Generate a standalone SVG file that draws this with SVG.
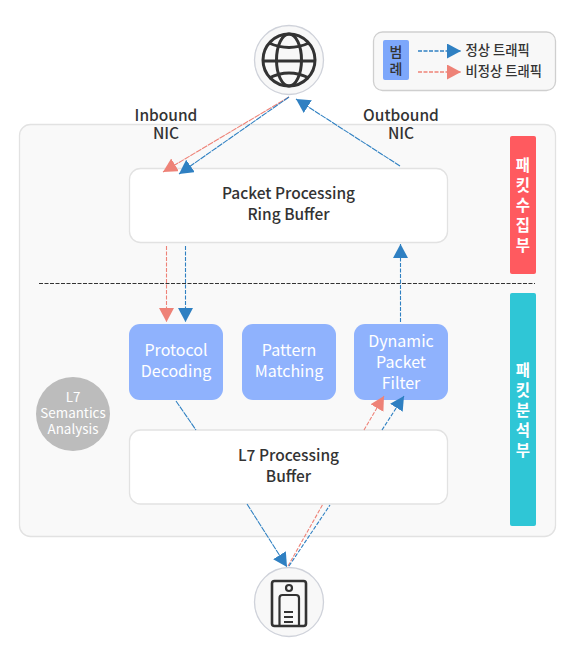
<svg xmlns="http://www.w3.org/2000/svg" width="574" height="658" viewBox="0 0 574 658">
<style>
text{font-family:"Noto Sans CJK KR","Noto Sans",sans-serif;text-anchor:middle}
.lbl{font-size:15.5px;font-weight:500;fill:#333}
.blu{font-size:16px;fill:#fff}
.sem{font-size:13.4px;fill:#fff}
.side{font-size:15.5px;font-weight:700;fill:#fff}
.leg{font-size:13.3px;font-weight:500;fill:#333;text-anchor:start}
.box{fill:#fff;stroke:#e2e2e2;stroke-width:1.3}
.bl{fill:#8fb2fd}
.n{stroke:#2f80c2;stroke-width:1.1;fill:none;stroke-dasharray:4 1.5}
.r{stroke:#ee8277;stroke-width:1.1;fill:none;stroke-dasharray:4 1.5}
.d{stroke-dasharray:6 0.8}
.ic{fill:none;stroke:#333;stroke-width:3}
.ring{fill:#f8f8f8;stroke:#cfd2da;stroke-width:1.3}
</style>
<defs>
<marker id="ab" markerUnits="userSpaceOnUse" markerWidth="15" markerHeight="16" refX="14" refY="7.500" orient="auto"><path d="M0 0L14 7.500L0 15Z" fill="#2f80c2"/></marker>
<marker id="ar" markerUnits="userSpaceOnUse" markerWidth="15" markerHeight="16" refX="14" refY="7.500" orient="auto"><path d="M0 0L14 7.500L0 15Z" fill="#ee8277"/></marker>
</defs>
<rect id="panel" x="19.500" y="124.500" width="536" height="412" rx="11" fill="#f9f9f9" stroke="#e2e2e2" stroke-width="1.3"/>
<path d="M39 283.500H535" stroke="#333" stroke-width="1" stroke-dasharray="4 1.500" fill="none"/>
<g id="internet"><circle class="ring" cx="289" cy="60" r="34.500"/>
<circle class="ic" cx="289" cy="60" r="26"/><ellipse class="ic" cx="289" cy="60" rx="12.500" ry="26"/><path class="ic" d="M263 61H315M269 43Q289 52 309 43M269 78Q289 68 309 78"/></g>
<g id="device"><circle class="ring" cx="289" cy="602" r="34.500"/>
<rect class="ic" x="272" y="581" width="34" height="45" rx="2.500" style="stroke-width:2.600"/><circle class="ic" cx="289" cy="588" r="3" style="stroke-width:2.200"/><path class="ic" style="stroke-width:2.200" d="M279.500 626V598Q279.500 595 282.500 595H296Q299 595 299 598V626M284 612H293M284 617H293M284 622H293"/></g>
<g id="legend"><rect x="373.500" y="32" width="182" height="58.500" rx="9" fill="#f8f8f8" stroke="#cfcfcf" stroke-width="1.300"/>
<rect x="383" y="40" width="26" height="40" rx="2" fill="#7da7fb"/>
<text x="396" y="57" font-size="14" font-weight="500" fill="#333">범</text><text x="396" y="74" font-size="14" font-weight="500" fill="#333">례</text>
<text class="leg" x="465.500" y="55">정상 트래픽</text><text class="leg" x="465.500" y="76">비정상 트래픽</text></g>
<g id="inbound"><text class="lbl" x="166" y="120.500">Inbound</text><text class="lbl" x="166" y="139">NIC</text></g>
<g id="outbound"><text class="lbl" x="401" y="120.500">Outbound</text><text class="lbl" x="401" y="139">NIC</text></g>
<g id="ring-buffer"><rect class="box" x="129.500" y="168.500" width="318" height="74" rx="11"/><text class="lbl" x="288.500" y="199">Packet Processing</text><text class="lbl" x="288.500" y="220">Ring Buffer</text></g>
<g id="protocol"><rect class="bl" x="129" y="324" width="94" height="76" rx="11"/><text class="blu" x="176" y="356">Protocol</text><text class="blu" x="176" y="377">Decoding</text></g>
<g id="pattern"><rect class="bl" x="242" y="324" width="94" height="76" rx="11"/><text class="blu" x="289" y="356">Pattern</text><text class="blu" x="289" y="377">Matching</text></g>
<g id="filter"><rect class="bl" x="354" y="324" width="94" height="76" rx="11"/><text class="blu" x="401" y="347">Dynamic</text><text class="blu" x="401" y="368">Packet</text><text class="blu" x="401" y="389">Filter</text></g>
<g id="semantics"><circle cx="73" cy="414" r="37" fill="#bcbcbc"/><text class="sem" x="73" y="402">L7</text><text class="sem" x="73" y="418">Semantics</text><text class="sem" x="73" y="434">Analysis</text></g>
<g id="l7-buffer"><rect class="box" x="129.500" y="430" width="318" height="74" rx="11"/><text class="lbl" x="288.500" y="461">L7 Processing</text><text class="lbl" x="288.500" y="482">Buffer</text></g>
<g id="collect"><rect x="510" y="136" width="26" height="138" rx="2" fill="#ff5a5f"/>
<text class="side" x="523" y="170.500">패</text><text class="side" x="523" y="190.500">킷</text><text class="side" x="523" y="210.500">수</text><text class="side" x="523" y="230.500">집</text><text class="side" x="523" y="250.500">부</text></g>
<g id="analysis"><rect x="510" y="293" width="26" height="233" rx="2" fill="#2fc6d6"/>
<text class="side" x="523" y="376">패</text><text class="side" x="523" y="396">킷</text><text class="side" x="523" y="416">분</text><text class="side" x="523" y="436">석</text><text class="side" x="523" y="456">부</text></g>
<g id="connectors">
<path class="n" style="stroke-width:1.500" d="M418 51H461" marker-end="url(#ab)"/><path class="r" style="stroke-width:1.500" d="M418 72H461" marker-end="url(#ar)"/>
<path class="r d" d="M289 97L163 172" marker-end="url(#ar)"/>
<path class="n d" d="M289 97L179 174" marker-end="url(#ab)"/>
<path class="n d" d="M400 166L296 99" marker-end="url(#ab)"/>
<path class="r" d="M166.500 246V322" marker-end="url(#ar)"/>
<path class="n" d="M185.500 246V322" marker-end="url(#ab)"/>
<path class="n" d="M400.500 322V244" marker-end="url(#ab)"/>
<path class="n d" d="M176 401L196 430"/>
<path class="n d" d="M247 504L287 567" marker-end="url(#ab)"/>
<path class="r" d="M288 566L323 504M364 430L384 396" marker-end="url(#ar)"/>
<path class="n" d="M289 566L330 505M382 430L404 396" marker-end="url(#ab)"/>
</g>
</svg>
